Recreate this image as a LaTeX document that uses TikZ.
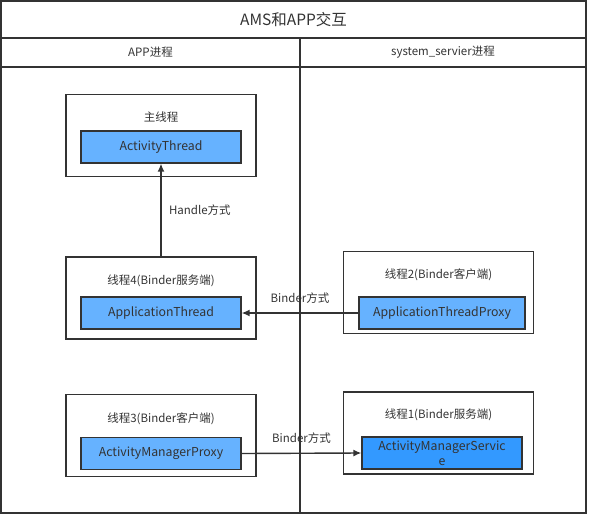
\documentclass[tikz,border=0pt]{standalone}
\usepackage{fontspec}
\setmainfont{Noto Sans CJK SC}
\usetikzlibrary{arrows.meta,positioning}
\definecolor{ln}{HTML}{333333}
\definecolor{clsblue}{HTML}{66B2FF}
\definecolor{svcblue}{HTML}{3399FF}
\newcommand{\thr}[6]{\node[thread] (#1) at (#2,#3) {}; \node[thrlbl] (#1l) at (#2,#4) {#5}; }
\newcommand{\cls}[5]{\node[cls,#5] (#1) at (#2,#3) {#4}; }

\begin{document}
\begin{tikzpicture}[x=1pt,y=-1pt,>={Latex[length=8pt,width=7pt]},
  every node/.style={text=ln,font=\fontsize{12.3}{14}\selectfont},
  frame/.style={draw=ln,line width=1.4pt},
  thread/.style={draw=ln,line width=1.4pt,minimum width=190pt,minimum height=82pt},
  thrlbl/.style={font=\fontsize{11.5}{13}\selectfont},
  cls/.style={draw=ln,line width=1.3pt,fill=clsblue,minimum width=160pt,minimum height=32pt,inner sep=1pt},
  lnk/.style={->,draw=ln,line width=1.4pt}]
  \useasboundingbox (0,0) rectangle (591,516);
  % swimlanes
  \draw[frame] (1,1) rectangle (586,513);
  \draw[frame] (1,38) -- (586,38) (1,67) -- (586,67) (300,38) -- (300,513);
  \node[font=\fontsize{15.5}{18}\selectfont] (title) at (293.5,19.5) {AMS和APP交互};
  \node[thrlbl] (app) at (150.5,52.5) {APP进程};
  \node[thrlbl] (sys) at (443,52.5) {system\_servier进程};
  % threads
  \thr{t0}{161}{135.5}{117}{主线程}{}
  \cls{at}{161}{147}{ActivityThread}{}
  \thr{t4}{161}{298}{281}{线程4(Binder服务端)}{}
  \cls{apt}{161}{313}{ApplicationThread}{}
  \thr{t2}{438.5}{292.5}{275}{线程2(Binder客户端)}{}
  \cls{atp}{442}{313}{ApplicationThreadProxy}{minimum width=166pt}
  \thr{t3}{161}{435.5}{419}{线程3(Binder客户端)}{}
  \cls{amp}{161}{453.5}{ActivityManagerProxy}{}
  \thr{t1}{438.5}{433}{415}{线程1(Binder服务端)}{}
  \cls{ams}{442}{453}{ActivityManagerServic\\e}{fill=svcblue,align=center,font=\fontsize{12.3}{15}\selectfont}
  % links
  \draw[lnk] (t4.north) -- node[right=4pt,thrlbl] {Handle方式} (at.south);
  \draw[lnk] (atp.west) -- node[above=6pt,thrlbl] {Binder方式} (apt.east);
  \draw[lnk] (amp.east) -- node[above=6pt,thrlbl] {Binder方式} (ams.west);
\end{tikzpicture}
\end{document}
